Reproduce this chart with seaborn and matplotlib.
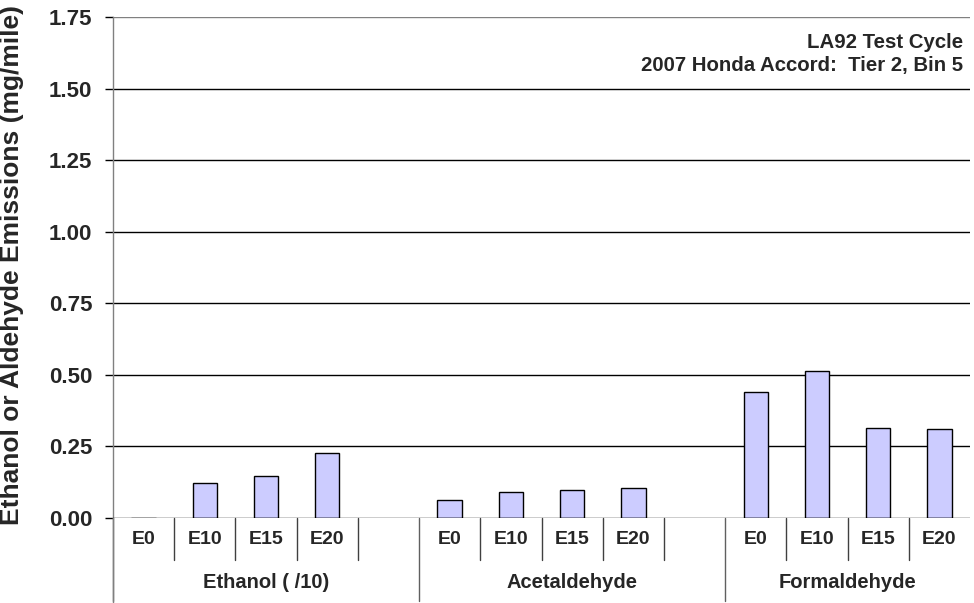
import numpy as np
import pandas as pd
import matplotlib
matplotlib.use("Agg")
import matplotlib.pyplot as plt
import seaborn as sns

# ---- data -------------------------------------------------------------
groups = ["Ethanol ( /10)", "Acetaldehyde", "Formaldehyde"]
fuels = ["E0", "E10", "E15", "E20"]
ethanol_div10 = [0.0, 0.122, 0.147, 0.226]
acetaldehyde = [0.062, 0.090, 0.098, 0.106]
formaldehyde = [0.440, 0.514, 0.316, 0.311]
y_ticks = [0.00, 0.25, 0.50, 0.75, 1.00, 1.25, 1.50, 1.75]
note_lines = ["LA92 Test Cycle", "2007 Honda Accord:  Tier 2, Bin 5"]
y_title = "Ethanol or Aldehyde Emissions (mg/mile)"

# one category slot per fuel, with an empty slot between compound groups
series = [ethanol_div10, acetaldehyde, formaldehyde]
slots, values, slot_fuel = [], [], []
for gi, (g, vals) in enumerate(zip(groups, series)):
    for f, v in zip(fuels, vals):
        slots.append(f"{g}|{f}")
        values.append(v)
        slot_fuel.append(f)
    if gi < len(groups) - 1:
        slots.append(f"{g}|gap")
        values.append(np.nan)
        slot_fuel.append("")
df = pd.DataFrame({"slot": slots, "value": values})

# ---- style ------------------------------------------------------------
sns.set_theme(style="white")
plt.rcParams["font.family"] = ["Liberation Sans", "DejaVu Sans"]
plt.rcParams["font.weight"] = "bold"

W, H = 974, 603
fig = plt.figure(figsize=(W / 100, H / 100), dpi=100)
ax_left, ax_right, ax_top, ax_bot = 113, 970, 17, 518
ax = fig.add_axes([ax_left / W, (H - ax_bot) / H,
                   (ax_right - ax_left) / W, (ax_bot - ax_top) / H])

sns.barplot(data=df, x="slot", y="value", order=slots, ax=ax,
            color="#CCCCFF", edgecolor="black", linewidth=1.0,
            width=0.4, saturation=1, errorbar=None, zorder=3)

n = len(slots)
ax.set_xlim(-0.5, n - 0.5)
ax.set_ylim(0, 1.75)
ax.set_yticks(y_ticks)
ax.set_yticklabels([f"{t:.2f}" for t in y_ticks], fontsize=16, fontweight="bold")
ax.tick_params(axis="y", direction="out", length=6, width=1, color="black",
               pad=9, left=True)
ax.set_xticks([])
ax.set_xlabel("")
ax.set_ylabel(y_title, fontsize=19, fontweight="bold")
ax.yaxis.set_label_coords(-0.104, 0.505)

# horizontal gridlines
for t in y_ticks[1:]:
    ax.axhline(t, color="#808080" if t == y_ticks[-1] else "black",
               lw=1, zorder=1)
ax.axhline(0, color="black", lw=1, zorder=4)

for side in ["top", "right", "bottom"]:
    ax.spines[side].set_visible(False)
ax.spines["left"].set_color("#808080")
ax.spines["left"].set_linewidth(1)

# ---- two-level category axis -----------------------------------------
axh = ax_bot - ax_top
tr = ax.get_xaxis_transform()


def yfrac(px_below):
    return -px_below / axh


# separators: short between fuels, long between compound groups
group_starts = [i for i, s in enumerate(slots) if s.endswith("|E0")]
for i in range(n):
    edge = i - 0.5
    long_line = i in group_starts
    ax.plot([edge, edge], [0, yfrac(83 if long_line else 42)],
            transform=tr, color="#404040" if not long_line else "#606060",
            lw=1, clip_on=False)
# left spine continues down through the label rows
ax.plot([-0.5, -0.5], [0, yfrac(85)], transform=tr, color="#808080",
        lw=1, clip_on=False)

for i, f in enumerate(slot_fuel):
    if f:
        ax.text(i, yfrac(21), f, transform=tr, ha="center", va="center",
                fontsize=14, fontweight="bold", clip_on=False)

group_edges = group_starts + [n]
for gi, g in enumerate(groups):
    lo = group_edges[gi] - 0.5
    hi = group_edges[gi + 1] - 0.5
    ax.text((lo + hi) / 2, yfrac(64), g, transform=tr, ha="center",
            va="center", fontsize=14.5, fontweight="bold", clip_on=False)

# ---- test description -------------------------------------------------
for k, line in enumerate(note_lines):
    ax.text((963 - ax_left) / (ax_right - ax_left),
            (ax_bot - (42 + 24 * k)) / axh, line, transform=ax.transAxes,
            ha="right", va="center", fontsize=14.7, fontweight="bold")

fig.savefig("out.png", dpi=100, facecolor="white")
